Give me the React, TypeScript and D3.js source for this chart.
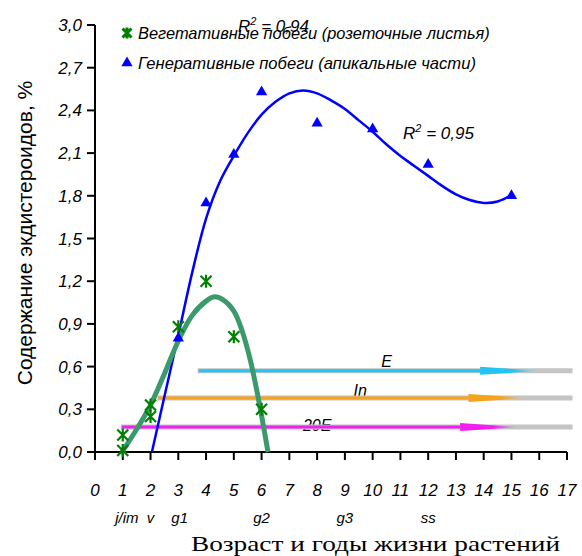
import React, { useRef, useEffect } from 'react';
import * as d3 from 'd3';

// Vegetative shoots (rosette leaves)
const vegX = [1, 1, 2, 2, 3, 4, 5, 6];
const vegY = [0.01, 0.12, 0.25, 0.33, 0.88, 1.2, 0.81, 0.3];

// Generative shoots (apical parts)
const genX = [3, 4, 5, 6, 8, 10, 12, 15];
const genY = [0.8, 1.75, 2.09, 2.53, 2.31, 2.27, 2.02, 1.8];

// trend lines
const vegTrendX = [0.97, 1.5, 2, 2.5, 3, 3.5, 4, 4.3, 4.6, 5, 5.3, 5.6, 5.9, 6.23];
const vegTrendY = [0, 0.16, 0.33, 0.55, 0.78, 0.96, 1.06, 1.09, 1.07, 0.99, 0.85, 0.64, 0.36, 0];
const genTrendX = [2.05, 2.5, 3, 3.5, 4, 4.5, 5, 5.5, 6, 6.5, 7, 7.5, 8, 8.5, 9, 9.5, 10, 10.5, 11, 11.5, 12, 12.5, 13, 13.5, 14, 14.5, 15.05];
const genTrendY = [0, 0.39, 0.82, 1.26, 1.64, 1.9, 2.08, 2.24, 2.37, 2.46, 2.52, 2.54, 2.52, 2.47, 2.41, 2.33, 2.25, 2.16, 2.08, 2.01, 1.94, 1.87, 1.81, 1.77, 1.75, 1.76, 1.81];

// hormone arrows
const arrowLabels = ['E', 'In', '20E'];
const arrowStartX = [3.7, 2.25, 0.93];
const arrowHeadX = [13.87, 13.45, 13.15];
const arrowEndX = [17.2, 17.2, 17.2];
const arrowY = [0.57, 0.38, 0.175];
const arrowLabelX = [10.5, 9.55, 8.0];
const arrowLabelY = [0.6, 0.39, 0.145];
const arrowColors = ['#21c4f2', '#f7a21b', '#f21ef2'];

const xTicks = [0, 1, 2, 3, 4, 5, 6, 7, 8, 9, 10, 11, 12, 13, 14, 15, 16, 17];
const yTicks = [0, 0.3, 0.6, 0.9, 1.2, 1.5, 1.8, 2.1, 2.4, 2.7, 3.0];
const stageLabels = ['j/im', 'v', 'g1', 'g2', 'g3', 'ss'];
const stageX = [1.15, 2, 3.05, 6, 9, 12];

const W = 582;
const H = 556;
const SANS = '"Liberation Sans", Arial, sans-serif';

function App() {
  const svgRef = useRef<SVGSVGElement>(null);

  useEffect(() => {
    const svg = d3.select(svgRef.current);
    svg.selectAll('*').remove();

    const x = d3.scaleLinear().domain([0, 17]).range([95, 567]);
    const y = d3.scaleLinear().domain([0, 3]).range([452, 25]);
    const fmt = (v: number) => v.toFixed(1).replace('.', ',');

    // gradients for arrow heads
    const defs = svg.append('defs');
    arrowColors.forEach((c, i) => {
      const g = defs.append('linearGradient').attr('id', `head${i}`);
      g.append('stop').attr('offset', '0%').attr('stop-color', c);
      g.append('stop').attr('offset', '55%').attr('stop-color', c);
      g.append('stop').attr('offset', '100%').attr('stop-color', '#cfcfcf');
    });

    // axes
    const axes = svg.append('g').attr('stroke', '#000').attr('stroke-width', 2);
    axes.append('line').attr('x1', x(0)).attr('x2', x(0)).attr('y1', y(3)).attr('y2', y(0));
    axes.append('line').attr('x1', x(0) - 8).attr('x2', x(17)).attr('y1', y(0)).attr('y2', y(0));
    yTicks.forEach(t => {
      axes.append('line').attr('x1', x(0) - 8).attr('x2', x(0)).attr('y1', y(t)).attr('y2', y(t));
    });
    xTicks.forEach(t => {
      axes.append('line').attr('x1', x(t)).attr('x2', x(t)).attr('y1', y(0)).attr('y2', y(0) + 8);
    });

    svg.selectAll('.ytick')
      .data(yTicks)
      .enter()
      .append('text')
      .attr('x', x(0) - 13)
      .attr('y', d => y(d) + 6)
      .attr('text-anchor', 'end')
      .attr('font-family', SANS)
      .attr('font-style', 'italic')
      .attr('font-size', 17)
      .text(d => fmt(d));

    svg.selectAll('.xtick')
      .data(xTicks)
      .enter()
      .append('text')
      .attr('x', d => x(d))
      .attr('y', 496)
      .attr('text-anchor', 'middle')
      .attr('font-family', SANS)
      .attr('font-style', 'italic')
      .attr('font-size', 17)
      .text(d => d);

    svg.selectAll('.stage')
      .data(stageLabels)
      .enter()
      .append('text')
      .attr('x', (d, i) => x(stageX[i]))
      .attr('y', 523)
      .attr('text-anchor', 'middle')
      .attr('font-family', SANS)
      .attr('font-style', 'italic')
      .attr('font-size', 15)
      .text(d => d);

    // axis titles
    svg.append('text')
      .attr('x', 191)
      .attr('y', 551)
      .attr('textLength', 369)
      .attr('lengthAdjust', 'spacingAndGlyphs')
      .attr('font-family', '"Liberation Serif", "Times New Roman", serif')
      .attr('font-size', 22)
      .text('Возраст и годы жизни растений');

    svg.append('text')
      .attr('transform', 'translate(32,233) rotate(-90)')
      .attr('text-anchor', 'middle')
      .attr('font-family', SANS)
      .attr('font-size', 21)
      .text('Содержание экдистероидов, %');

    // arrow labels (drawn under the arrows)
    svg.selectAll('.alabel')
      .data(arrowLabels)
      .enter()
      .append('text')
      .attr('x', (d, i) => x(arrowLabelX[i]))
      .attr('y', (d, i) => y(arrowLabelY[i]))
      .attr('text-anchor', 'middle')
      .attr('font-family', SANS)
      .attr('font-style', 'italic')
      .attr('font-size', 16)
      .text(d => d);

    // arrows
    arrowLabels.forEach((lab, i) => {
      const ay = y(arrowY[i]);
      const a = svg.append('g');
      a.append('line')
        .attr('x1', x(arrowStartX[i])).attr('x2', x(arrowEndX[i]))
        .attr('y1', ay).attr('y2', ay)
        .attr('stroke', '#c4c4c4').attr('stroke-width', 5);
      a.append('line')
        .attr('x1', x(arrowStartX[i]) + 1).attr('x2', x(arrowHeadX[i]))
        .attr('y1', ay).attr('y2', ay)
        .attr('stroke', arrowColors[i]).attr('stroke-width', 3);
      const hx = x(arrowHeadX[i]);
      a.append('path')
        .attr('d', `M${hx},${ay - 4}L${hx + 60},${ay}L${hx},${ay + 4}Z`)
        .attr('fill', `url(#head${i})`);
    });

    const line = d3.line<number>()
      .curve(d3.curveCatmullRom.alpha(0.5));

    // generative trend
    svg.append('path')
      .attr('d', line.x(d => x(d)).y((d, i) => y(genTrendY[i]))(genTrendX))
      .attr('fill', 'none')
      .attr('stroke', '#0000ff')
      .attr('stroke-width', 2.5);

    // vegetative trend
    svg.append('path')
      .attr('d', line.x(d => x(d)).y((d, i) => y(vegTrendY[i]))(vegTrendX))
      .attr('fill', 'none')
      .attr('stroke', '#3a9a6c')
      .attr('stroke-width', 5);

    // markers
    const star = 'M-5.5,-5.5L5.5,5.5M-5.5,5.5L5.5,-5.5M0,-6.5L0,6.5';
    svg.selectAll('.veg')
      .data(vegX)
      .enter()
      .append('path')
      .attr('transform', (d, i) => `translate(${x(d)},${y(vegY[i])})`)
      .attr('d', star)
      .attr('fill', 'none')
      .attr('stroke', '#008000')
      .attr('stroke-width', 2.2);

    const tri = d3.symbol().type(d3.symbolTriangle).size(55);
    svg.selectAll('.gen')
      .data(genX)
      .enter()
      .append('path')
      .attr('transform', (d, i) => `translate(${x(d)},${y(genY[i])})`)
      .attr('d', tri())
      .attr('fill', '#0000ff');

    // R² annotations
    const r2 = (px: number, py: number, val: string) => {
      const t = svg.append('text')
        .attr('x', px)
        .attr('y', py)
        .attr('font-family', SANS)
        .attr('font-style', 'italic')
        .attr('font-size', 17);
      t.append('tspan').text('R');
      t.append('tspan').attr('dy', -7).attr('font-size', 11).text('2');
      t.append('tspan').attr('dy', 7).text(` = ${val}`);
    };
    r2(238, 32, '0,94');
    r2(403, 139, '0,95');

    // legend
    const leg = svg.append('g');
    leg.append('path')
      .attr('transform', 'translate(127,33)')
      .attr('d', 'M-4.5,-4.5L4.5,4.5M-4.5,4.5L4.5,-4.5M0,-5.5L0,5.5')
      .attr('stroke', '#008000')
      .attr('stroke-width', 3);
    leg.append('path')
      .attr('transform', 'translate(127,63)')
      .attr('d', tri())
      .attr('fill', '#0000ff');
    leg.append('text')
      .attr('x', 138).attr('y', 39)
      .attr('font-family', SANS).attr('font-style', 'italic').attr('font-size', 16.4)
      .text('Вегетативные побеги (розеточные листья)');
    leg.append('text')
      .attr('x', 138).attr('y', 69)
      .attr('font-family', SANS).attr('font-style', 'italic').attr('font-size', 16.6)
      .text('Генеративные побеги (апикальные части)');
  }, []);

  return (
    <svg
      ref={svgRef}
      width={W}
      height={H}
      style={{ position: 'absolute', left: 0, top: 0, background: '#fff' }}
    ></svg>
  );
}

export default App;
